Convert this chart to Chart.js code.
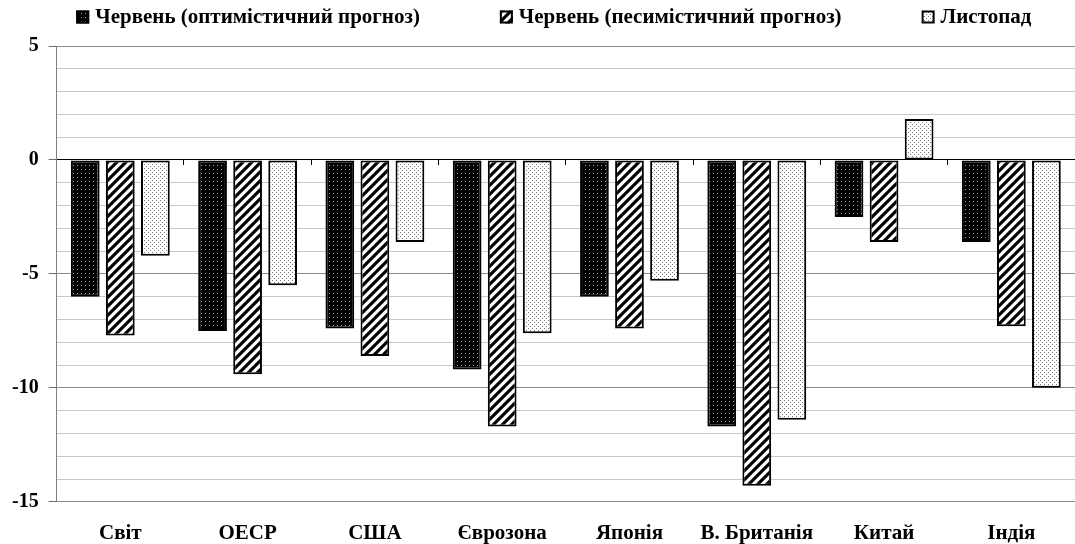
<!DOCTYPE html>
<html>
<head>
<meta charset="utf-8">
<script src="https://cdn.jsdelivr.net/npm/chart.js@4/dist/chart.umd.min.js"></script>
<style>
  body { margin: 0; background: #fff; }
  #wrap { width: 1075px; height: 544px; }
</style>
</head>
<body>
<div id="wrap"><canvas id="barchart"></canvas></div>
<script>
const categories = ["Світ", "ОЕСР", "США", "Єврозона", "Японія", "В. Британія", "Китай", "Індія"];
const seriesNames = ["Червень (оптимістичний прогноз)", "Червень (песимістичний прогноз)", "Листопад"];
const juneOptimistic = [-6.0, -7.5, -7.4, -9.2, -6.0, -11.7, -2.5, -3.6];
const junePessimistic = [-7.7, -9.4, -8.6, -11.7, -7.4, -14.3, -3.6, -7.3];
const november = [-4.2, -5.5, -3.6, -7.6, -5.3, -11.4, 1.8, -10.0];
const yMin = -15, yMax = 5, yStep = 5;

const FONT = '"Liberation Serif", "Times New Roman", serif';

// fill patterns like the old office-style hatches
function makePattern(kind) {
  const c = document.createElement("canvas");
  const p = c.getContext("2d");
  if (kind === "darkdots") {
    c.width = 4; c.height = 4;
    p.fillStyle = "#000"; p.fillRect(0, 0, 4, 4);
    p.fillStyle = "#a0a0a0"; p.fillRect(1, 1, 1, 1);
  } else if (kind === "stripes") {
    c.width = 9; c.height = 9;
    p.fillStyle = "#fff"; p.fillRect(0, 0, 9, 9);
    p.strokeStyle = "#000"; p.lineWidth = 3.2;
    p.beginPath();
    p.moveTo(-1, 10); p.lineTo(10, -1);
    p.moveTo(-5.5, 5.5); p.lineTo(5.5, -5.5);
    p.moveTo(3.5, 14.5); p.lineTo(14.5, 3.5);
    p.stroke();
  } else {
    c.width = 4; c.height = 4;
    p.fillStyle = "#fff"; p.fillRect(0, 0, 4, 4);
    p.fillStyle = "#777"; p.fillRect(0, 0, 1, 1);
    p.fillRect(2, 2, 1, 1);
  }
  return p.createPattern(c, "repeat");
}

// legend drawn by hand: the built-in one can't do wide gaps on one row
const patternLegend = {
  id: "patternLegend",
  afterDraw(chart) {
    const ctx = chart.ctx;
    const box = 13, boxGap = 6, gap = 80, midY = 17;
    ctx.save();
    ctx.font = "bold 21px " + FONT;
    ctx.textBaseline = "middle";
    const items = chart.data.datasets.map(ds => ({ ds, w: box + boxGap + ctx.measureText(ds.label).width }));
    const total = items.reduce((s, it) => s + it.w, 0) + gap * (items.length - 1);
    let x = (chart.chartArea.left + chart.chartArea.right) / 2 - total / 2 - 12;
    items.forEach(it => {
      ctx.fillStyle = it.ds.backgroundColor;
      ctx.fillRect(x, midY - box / 2, box, box);
      ctx.strokeStyle = "#000";
      ctx.lineWidth = 2;
      ctx.strokeRect(x + 1, midY - box / 2 + 1, box - 2, box - 2);
      ctx.fillStyle = "#000";
      ctx.fillText(it.ds.label, x + box + boxGap, midY + 1);
      x += it.w + gap;
    });
    ctx.restore();
  }
};

const ctxBar = document.getElementById("barchart").getContext("2d");
const fills = [makePattern("darkdots"), makePattern("stripes"), makePattern("lightdots")];
const values = [juneOptimistic, junePessimistic, november];

const barChart = new Chart(ctxBar, {
  type: "bar",
  data: {
    labels: categories,
    datasets: seriesNames.map((name, i) => ({
      label: name,
      data: values[i],
      backgroundColor: fills[i],
      borderColor: "#000",
      borderWidth: 2,
      borderSkipped: false,
      barPercentage: 0.82,
      categoryPercentage: 0.826,
      xAxisID: "x"
    }))
  },
  plugins: [patternLegend],
  options: {
    responsive: true,
    maintainAspectRatio: false,
    animation: false,
    layout: { padding: { top: 46, right: -5, left: 2, bottom: -21 } },
    plugins: {
      tooltip: { enabled: false },
      legend: { display: false }
    },
    scales: {
      x: {
        position: "bottom",
        grid: { display: false, drawTicks: false },
        border: { display: false },
        ticks: {
          color: "#000",
          padding: 19,
          maxRotation: 0,
          font: { family: FONT, size: 21, weight: "bold" }
        }
      },
      x0: {
        type: "category",
        labels: categories,
        position: { y: 0 },
        offset: true,
        grid: {
          offset: true,
          drawOnChartArea: false,
          tickLength: 5,
          tickColor: "#000"
        },
        border: { color: "#000", width: 1 },
        ticks: { display: false }
      },
      y: {
        min: yMin,
        max: yMax,
        grid: {
          color: (c) => c.tick.value % yStep === 0 ? "#8a8a8a" : "#c8c8c8",
          tickColor: (c) => c.tick.value % yStep === 0 ? "#6a6a6a" : "rgba(0,0,0,0)",
          tickLength: 8
        },
        border: { color: "#808080", width: 1 },
        ticks: {
          stepSize: 1,
          autoSkip: false,
          padding: 10,
          color: "#000",
          font: { family: FONT, size: 20, weight: "bold" },
          callback: function(value) {
            return value % yStep === 0 ? value : "";
          }
        }
      }
    }
  }
});
</script>
</body>
</html>
